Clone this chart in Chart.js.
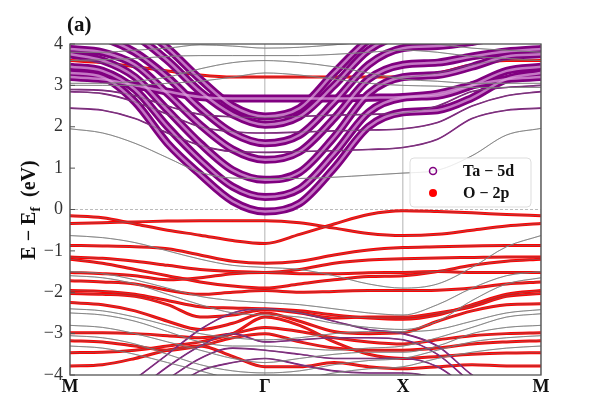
<!DOCTYPE html>
<html lang="en">
<head>
<meta charset="UTF-8">
<title>Band structure</title>
<script src="https://cdn.jsdelivr.net/npm/chart.js"></script>
<style>
  html, body { margin: 0; padding: 0; background: #fff; }
  #wrap { width: 598px; height: 419px; }
</style>
</head>
<body>
<div id="wrap"><canvas id="bands"></canvas></div>
<script>
// k path: M - Γ - X - M (M-Γ is the diagonal, so it is √2 long)
const kPoints = [0, 0.236, 0.471, 0.707, 0.943, 1.179, 1.414, 1.664, 1.914, 2.164, 2.414, 2.664, 2.914, 3.164, 3.414];
const kTicks = [0, 1.414, 2.414, 3.414];
const kLabels = ['M', 'Γ', 'X', 'M'];
const energyTicks = [-4, -3, -2, -1, 0, 1, 2, 3, 4];

// Ta-5d dominated conduction bands (energies in eV at kPoints)
const taBands = [
  [3.3, 3.2, 2.6, 1.6, 0.85, 0.2, -0.05, 0.15, 1.0, 2.0, 2.35, 2.4, 2.7, 3.15, 3.3],
  [3.45, 3.35, 2.9, 2.0, 1.2, 0.55, 0.3, 0.5, 1.35, 2.35, 2.7, 2.75, 3.0, 3.35, 3.45],
  [3.75, 3.6, 3.2, 2.4, 1.6, 0.95, 0.72, 0.9, 1.75, 2.8, 3.2, 3.25, 3.45, 3.7, 3.75],
  [3.88, 3.8, 3.5, 2.8, 2.05, 1.45, 1.2, 1.4, 2.2, 3.15, 3.5, 3.55, 3.7, 3.82, 3.88],
  [4.3, 4.15, 3.8, 3.2, 2.45, 1.85, 1.6, 1.8, 2.6, 3.5, 3.9, 3.95, 4.05, 4.2, 4.3],
  [4.6, 4.5, 4.2, 3.6, 2.85, 2.3, 2.05, 2.25, 3.0, 3.85, 4.2, 4.25, 4.4, 4.5, 4.6],
  [4.9, 4.8, 4.5, 3.9, 3.15, 2.5, 2.25, 2.45, 3.3, 4.1, 4.5, 4.6, 4.7, 4.8, 4.9],
  [3.2, 3.15, 3.0, 2.85, 2.72, 2.68, 2.68, 2.68, 2.68, 2.7, 2.72, 2.8, 3.0, 3.15, 3.2]
];

// weaker Ta-5d bands (thin purple)
const taThin = [
  [2.45, 2.4, 2.2, 1.85, 1.55, 1.4, 1.38, 1.4, 1.42, 1.45, 1.5, 1.7, 2.2, 2.4, 2.45],
  [2.85, 2.8, 2.6, 2.3, 2.0, 1.88, 1.85, 1.87, 1.9, 1.92, 1.95, 2.1, 2.5, 2.75, 2.85],
  [2.9, 2.88, 2.75, 2.5, 2.3, 2.24, 2.22, 2.25, 2.28, 2.3, 2.33, 2.5, 2.85, 2.95, 3.0],
  [-5.0, -4.7, -4.1, -3.5, -2.9, -2.5, -2.4, -2.5, -2.7, -2.9, -3.0, -3.3, -4.0, -4.5, -5.0],
  [-5.2, -4.9, -4.4, -3.8, -3.3, -3.0, -3.2, -3.15, -3.1, -3.1, -3.15, -3.5, -4.2, -4.8, -5.2],
  [-5.4, -5.1, -4.6, -4.1, -3.6, -3.35, -3.4, -3.5, -3.6, -3.6, -3.6, -3.8, -4.4, -5.0, -5.4],
  [-5.5, -5.3, -4.9, -4.4, -3.9, -3.7, -3.6, -3.75, -3.9, -3.95, -3.95, -4.1, -4.6, -5.2, -5.5]
];

// O-2p dominated valence bands
const oBands = [
  [-0.15, -0.2, -0.35, -0.5, -0.62, -0.75, -0.82, -0.6, -0.35, -0.12, -0.03, -0.05, -0.08, -0.12, -0.15],
  [-0.34, -0.32, -0.3, -0.28, -0.27, -0.27, -0.27, -0.32, -0.45, -0.58, -0.63, -0.6, -0.5, -0.4, -0.34],
  [-0.87, -0.88, -0.9, -0.95, -1.1, -1.25, -1.3, -1.25, -1.1, -0.98, -0.92, -0.9, -0.88, -0.87, -0.87],
  [-1.15, -1.18, -1.25, -1.35, -1.45, -1.5, -1.52, -1.45, -1.3, -1.22, -1.19, -1.17, -1.16, -1.15, -1.15],
  [-1.2, -1.3, -1.45, -1.6, -1.75, -1.85, -1.9, -1.8, -1.7, -1.62, -1.6, -1.5, -1.35, -1.25, -1.2],
  [-1.52, -1.55, -1.6, -1.7, -1.65, -1.55, -1.52, -1.55, -1.55, -1.53, -1.52, -1.5, -1.52, -1.52, -1.52],
  [-1.72, -1.75, -1.8, -1.95, -2.05, -2.0, -1.96, -2.0, -1.98, -1.96, -1.96, -1.95, -1.9, -1.8, -1.75],
  [-1.96, -1.98, -2.05, -2.2, -2.35, -2.38, -2.4, -2.45, -2.55, -2.62, -2.65, -2.55, -2.3, -2.05, -1.96],
  [-2.03, -2.05, -2.1, -2.3, -2.6, -2.55, -2.42, -2.5, -2.62, -2.6, -2.6, -2.5, -2.35, -2.1, -2.03],
  [-2.25, -2.3, -2.45, -2.7, -2.9, -2.75, -2.5, -2.7, -2.95, -3.0, -2.98, -2.7, -2.45, -2.3, -2.28],
  [-2.98, -2.98, -3.0, -3.05, -3.1, -3.0, -2.85, -2.95, -3.1, -3.2, -3.25, -3.15, -3.05, -3.0, -2.98],
  [-3.17, -3.2, -3.3, -3.4, -3.3, -3.1, -3.0, -3.2, -3.35, -3.4, -3.4, -3.35, -3.25, -3.2, -3.17],
  [-3.46, -3.45, -3.4, -3.3, -3.2, -3.0, -2.6, -2.8, -3.2, -3.5, -3.6, -3.55, -3.5, -3.47, -3.46],
  [-3.78, -3.75, -3.6, -3.4, -3.3, -3.55, -3.8, -3.8, -3.7, -3.8, -3.85, -3.8, -3.75, -3.78, -3.78],
  [3.6, 3.55, 3.45, 3.35, 3.25, 3.2, 3.2, 3.2, 3.2, 3.2, 3.2, 3.3, 3.5, 3.6, 3.6]
];

// bands with little weight on either projection
const otherBands = [
  [1.95, 1.85, 1.6, 1.25, 0.9, 0.76, 0.75, 0.75, 0.78, 0.83, 0.88, 0.95, 1.3, 1.8, 1.96],
  [3.0, 3.0, 3.0, 3.05, 3.1, 3.2, 3.3, 3.25, 3.15, 3.05, 3.0, 2.98, 2.95, 2.95, 2.95],
  [3.05, 3.05, 3.1, 3.2, 3.4, 3.55, 3.6, 3.55, 3.45, 3.3, 3.15, 3.1, 3.05, 3.05, 3.05],
  [3.6, 3.62, 3.65, 3.7, 3.72, 3.72, 3.72, 3.72, 3.75, 3.8, 3.85, 3.8, 3.7, 3.65, 3.6],
  [3.8, 3.8, 3.85, 3.9, 3.98, 3.95, 3.9, 3.92, 3.98, 4.05, 4.1, 4.0, 3.9, 3.85, 3.8],
  [-0.63, -0.68, -0.8, -1.0, -1.2, -1.35, -1.4, -1.45, -1.6, -1.8, -1.9, -1.8, -1.4, -0.9, -0.63],
  [-1.5, -1.55, -1.7, -1.9, -2.1, -2.2, -2.25, -2.3, -2.4, -2.5, -2.55, -2.3, -1.9, -1.6, -1.5],
  [-1.6, -1.65, -1.8, -2.05, -2.3, -2.5, -2.55, -2.6, -2.75, -2.85, -2.9, -2.7, -2.2, -1.8, -1.65],
  [-2.4, -2.45, -2.6, -2.8, -3.0, -3.1, -3.15, -3.1, -3.0, -2.95, -2.95, -2.9, -2.7, -2.5, -2.42],
  [-2.5, -2.55, -2.7, -2.95, -3.2, -3.3, -3.3, -3.35, -3.4, -3.35, -3.3, -3.1, -2.85, -2.6, -2.52],
  [-2.8, -2.85, -3.0, -3.2, -3.4, -3.6, -3.7, -3.6, -3.5, -3.45, -3.45, -3.3, -3.0, -2.85, -2.8],
  [-3.05, -3.1, -3.25, -3.5, -3.75, -3.9, -3.95, -3.9, -3.75, -3.65, -3.6, -3.4, -3.2, -3.1, -3.05],
  [-3.3, -3.35, -3.5, -3.7, -3.9, -4.1, -4.2, -4.1, -3.95, -3.85, -3.8, -3.6, -3.45, -3.35, -3.3]
];

const PURPLE = '#800080';
const RED = '#ff0000';
const GREY = 'rgba(110,110,110,0.75)';
const SERIF = "'Liberation Serif', 'DejaVu Serif', serif";

function toPoints(band) {
  return kPoints.map((k, i) => ({ x: k, y: band[i] }));
}

function bandSet(band, color, width, order) {
  return {
    data: toPoints(band),
    borderColor: color,
    borderWidth: width,
    pointRadius: 0,
    showLine: true,
    cubicInterpolationMode: 'monotone',
    clip: 0,
    order: order
  };
}

const datasets = [];
// thin grey band lines sit on top of the projections
[...taThin, ...oBands, ...otherBands].forEach(b => datasets.push(bandSet(b, GREY, 0.8, 0)));
otherBands.forEach(b => datasets.push(bandSet(b, 'rgba(150,150,150,0.8)', 1, 1)));
taBands.forEach(b => datasets.push(bandSet(b, 'rgba(225,170,225,0.7)', 2.5, 1)));
taBands.forEach(b => datasets.push(bandSet(b, PURPLE, 8, 2)));
taThin.forEach(b => datasets.push(bandSet(b, PURPLE, 1.6, 2)));
oBands.forEach(b => datasets.push(bandSet(b, RED, 3, 3)));

const decor = {
  id: 'decor',
  beforeDatasetsDraw(chart) {
    const { ctx, chartArea: a, scales } = chart;
    const y0 = scales.y.getPixelForValue(0);
    ctx.save();
    ctx.strokeStyle = '#aaa';
    ctx.lineWidth = 0.8;
    ctx.setLineDash([3, 2]);
    ctx.beginPath();
    ctx.moveTo(a.left, y0);
    ctx.lineTo(a.right, y0);
    ctx.stroke();
    ctx.restore();
  },
  afterDraw(chart) {
    const { ctx, chartArea: a, scales } = chart;
    ctx.save();
    // frame
    ctx.strokeStyle = '#555';
    ctx.lineWidth = 1.3;
    ctx.strokeRect(a.left, a.top, a.right - a.left, a.bottom - a.top);
    // inward ticks on the energy axis
    ctx.lineWidth = 1;
    energyTicks.forEach(v => {
      const y = scales.y.getPixelForValue(v);
      ctx.beginPath();
      ctx.moveTo(a.left, y);
      ctx.lineTo(a.left + 5, y);
      ctx.stroke();
    });

    // panel label
    ctx.fillStyle = '#111';
    ctx.font = 'bold 21px ' + SERIF;
    ctx.textAlign = 'left';
    ctx.textBaseline = 'alphabetic';
    ctx.fillText('(a)', 67, 31);

    // y axis title: E − E_f (eV)
    ctx.translate(28, 210);
    ctx.rotate(-Math.PI / 2);
    const big = 'bold 20px ' + SERIF;
    const small = 'bold 14px ' + SERIF;
    const parts = [['E − E', big, 0], ['f', small, 5], ['  (eV)', big, 0]];
    let total = 0;
    parts.forEach(p => { ctx.font = p[1]; total += ctx.measureText(p[0]).width; });
    let x = -total / 2;
    parts.forEach(p => {
      ctx.font = p[1];
      ctx.fillText(p[0], x, 7 + p[2]);
      x += ctx.measureText(p[0]).width;
    });
    ctx.setTransform(1, 0, 0, 1, 0, 0);

    // legend
    const lx = 410, ly = 158, lw = 121, lh = 49;
    ctx.fillStyle = 'rgba(255,255,255,0.85)';
    ctx.strokeStyle = '#ddd';
    ctx.lineWidth = 1;
    ctx.beginPath();
    ctx.roundRect(lx, ly, lw, lh, 4);
    ctx.fill();
    ctx.stroke();
    ctx.lineWidth = 1.5;
    ctx.strokeStyle = PURPLE;
    ctx.beginPath();
    ctx.arc(433, 171, 3.5, 0, Math.PI * 2);
    ctx.stroke();
    ctx.fillStyle = RED;
    ctx.beginPath();
    ctx.arc(433, 193, 4, 0, Math.PI * 2);
    ctx.fill();
    ctx.fillStyle = '#111';
    ctx.font = 'bold 16px ' + SERIF;
    ctx.textBaseline = 'middle';
    ctx.fillText('Ta − 5d', 463, 172);
    ctx.fillText('O − 2p', 463, 194);
    ctx.restore();
  }
};

new Chart(document.getElementById('bands'), {
  type: 'scatter',
  data: { datasets: datasets },
  options: {
    responsive: true,
    maintainAspectRatio: false,
    animation: false,
    layout: { padding: { left: 0, right: 57, top: 44, bottom: 0 } },
    plugins: {
      legend: { display: false },
      tooltip: { enabled: false },
      title: { display: false }
    },
    scales: {
      x: {
        type: 'linear',
        min: 0,
        max: 3.414,
        afterFit: s => { s.height = 44; },
        afterBuildTicks: s => { s.ticks = kTicks.map(v => ({ value: v })); },
        ticks: {
          autoSkip: false,
          maxRotation: 0,
          padding: 2,
          color: '#111',
          font: { family: SERIF, size: 18, weight: 'bold' },
          callback: (v, i) => kLabels[i]
        },
        grid: { color: '#cccccc', lineWidth: 1.5, drawTicks: false },
        border: { display: false }
      },
      y: {
        min: -4,
        max: 4,
        afterFit: s => { s.width = 70; },
        afterBuildTicks: s => { s.ticks = energyTicks.map(v => ({ value: v })); },
        ticks: {
          padding: 7,
          color: '#333',
          font: { family: SERIF, size: 18 },
          callback: v => (v < 0 ? '−' + Math.abs(v) : String(v))
        },
        grid: { display: false, drawTicks: false },
        border: { display: false }
      }
    }
  },
  plugins: [decor]
});
</script>
</body>
</html>
